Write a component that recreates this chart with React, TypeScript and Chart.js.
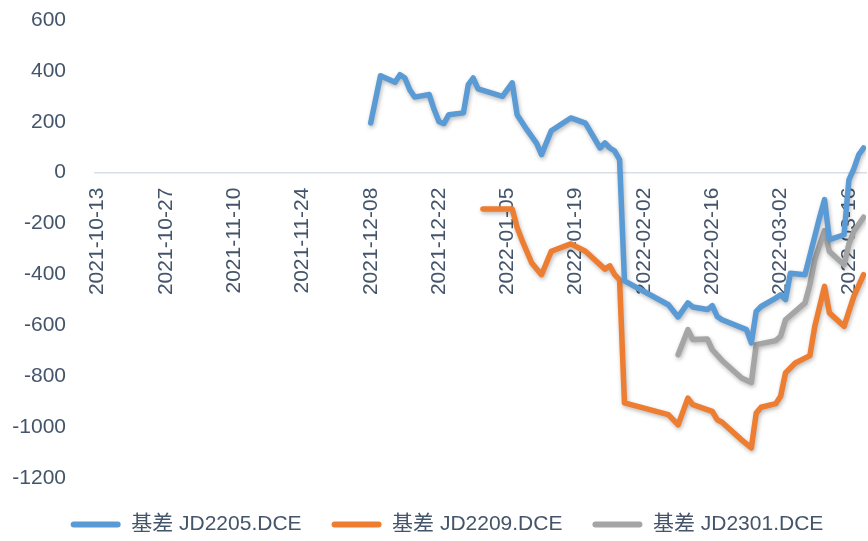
import React, { useEffect, useRef } from 'react';
import { Chart, registerables } from 'chart.js';

Chart.register(...registerables);

const FONT = "'Liberation Sans', 'Noto Sans CJK SC', sans-serif";
const TEXT_COLOR = '#44546A';

const seriesNames = ['基差 JD2205.DCE', '基差 JD2209.DCE', '基差 JD2301.DCE'];
const seriesColors = ['#5B9BD5', '#ED7D31', '#A5A5A5'];

const tickLabels = [
  '2021-10-13', '2021-10-27', '2021-11-10', '2021-11-24', '2021-12-08', '2021-12-22',
  '2022-01-05', '2022-01-19', '2022-02-02', '2022-02-16', '2022-03-02', '2022-03-16',
];
const axisStart = '2021-10-13';
const axisEnd = '2022-03-19';
const yMin = -1200;
const yMax = 600;
const yStep = 200;

const jd2205Dates = [
  '2021-12-08', '2021-12-10', '2021-12-13', '2021-12-14', '2021-12-15', '2021-12-16', '2021-12-17',
  '2021-12-20', '2021-12-21', '2021-12-22', '2021-12-23', '2021-12-24', '2021-12-27', '2021-12-28',
  '2021-12-29', '2021-12-30', '2022-01-04', '2022-01-06', '2022-01-07', '2022-01-09', '2022-01-11',
  '2022-01-12', '2022-01-14', '2022-01-18', '2022-01-21', '2022-01-24', '2022-01-25', '2022-01-26',
  '2022-01-27', '2022-01-28', '2022-01-29', '2022-02-07', '2022-02-09', '2022-02-11', '2022-02-12',
  '2022-02-15', '2022-02-16', '2022-02-17', '2022-02-18', '2022-02-23', '2022-02-24', '2022-02-25',
  '2022-02-26', '2022-03-01', '2022-03-02', '2022-03-03', '2022-03-04', '2022-03-07', '2022-03-10',
  '2022-03-11', '2022-03-12', '2022-03-15', '2022-03-16', '2022-03-17', '2022-03-18', '2022-03-19',
];
const jd2205Values = [
  195, 381, 355, 385, 372, 326, 297,
  307, 248, 200, 193, 228, 235, 346,
  372, 329, 300, 353, 228, 169, 115,
  71, 165, 215, 195, 97, 117, 97,
  85, 51, -425, -519, -567, -512, -528,
  -538, -523, -565, -578, -617, -669, -545,
  -526, -493, -480, -499, -395, -401, -175,
  -106, -263, -244, -28, 15, 70, 97,
];

const jd2209Dates = [
  '2021-12-31', '2022-01-06', '2022-01-07', '2022-01-08', '2022-01-10', '2022-01-12', '2022-01-14',
  '2022-01-18', '2022-01-21', '2022-01-25', '2022-01-26', '2022-01-27', '2022-01-28', '2022-01-29',
  '2022-02-07', '2022-02-09', '2022-02-11', '2022-02-12', '2022-02-16', '2022-02-17', '2022-02-18',
  '2022-02-22', '2022-02-24', '2022-02-25', '2022-02-26', '2022-03-01', '2022-03-02', '2022-03-03',
  '2022-03-05', '2022-03-08', '2022-03-09', '2022-03-11', '2022-03-12', '2022-03-15', '2022-03-17',
  '2022-03-19',
];
const jd2209Values = [
  -143, -143, -215, -265, -355, -401, -309,
  -280, -309, -379, -366, -401, -421, -905,
  -951, -991, -886, -912, -938, -971, -981,
  -1050, -1082, -945, -922, -908, -879, -787,
  -748, -719, -604, -447, -551, -604, -486,
  -401,
];

const jd2301Dates = [
  '2022-02-09', '2022-02-11', '2022-02-12', '2022-02-15', '2022-02-16', '2022-02-18', '2022-02-22',
  '2022-02-24', '2022-02-25', '2022-03-01', '2022-03-02', '2022-03-03', '2022-03-07', '2022-03-08',
  '2022-03-09', '2022-03-11', '2022-03-12', '2022-03-15', '2022-03-16', '2022-03-17', '2022-03-19',
];
const jd2301Values = [
  -715, -617, -656, -654, -696, -738, -807,
  -825, -676, -660, -643, -578, -512, -440,
  -342, -228, -310, -362, -280, -231, -175,
];

const seriesDates = [jd2205Dates, jd2209Dates, jd2301Dates];
const seriesValues = [jd2205Values, jd2209Values, jd2301Values];

const dayOffset = (s: string) => {
  const [y, m, d] = s.split('-').map(Number);
  const [y0, m0, d0] = axisStart.split('-').map(Number);
  return Math.round((Date.UTC(y, m - 1, d) - Date.UTC(y0, m0 - 1, d0)) / 86400000);
};

const shadowPlugin = {
  id: 'lineShadow',
  beforeDatasetDraw(chart: any) {
    const ctx = chart.ctx;
    ctx.save();
    ctx.shadowColor = 'rgba(0,0,0,0.28)';
    ctx.shadowBlur = 4;
    ctx.shadowOffsetX = 1;
    ctx.shadowOffsetY = 2;
  },
  afterDatasetDraw(chart: any) {
    chart.ctx.restore();
  },
};

const legendFitPlugin = {
  id: 'legendFit',
  beforeLayout(chart: any) {
    const lg = chart.legend;
    if (lg && !lg.__patched) {
      const orig = lg.fit;
      lg.fit = function () {
        orig.call(this);
        this.height = 63;
      };
      lg.__patched = true;
    }
  },
  afterLayout(chart: any) {
    const lg = chart.legend;
    if (lg) {
      lg.top += 6;
      lg.bottom += 6;
      lg.left += 14;
      lg.right += 14;
    }
  },
};

export default function App() {
  const ref = useRef<HTMLCanvasElement | null>(null);

  useEffect(() => {
    if (!ref.current) return;
    const datasets = seriesNames.map((name, i) => ({
      label: name,
      data: seriesDates[i].map((d, j) => ({ x: dayOffset(d), y: seriesValues[i][j] })),
      borderColor: seriesColors[i],
      backgroundColor: seriesColors[i],
      borderWidth: 5.5,
      borderCapStyle: 'round' as const,
      borderJoinStyle: 'round' as const,
      pointRadius: 0,
      pointHoverRadius: 0,
      tension: 0,
      fill: false,
    }));
    const tickOffsets = tickLabels.map(dayOffset);

    const chart = new Chart(ref.current, {
      type: 'line',
      data: { datasets },
      options: {
        animation: false,
        responsive: false,
        devicePixelRatio: 1,
        layout: { padding: { left: 0, right: 2, top: 20, bottom: 0 } },
        scales: {
          x: {
            type: 'linear',
            position: { y: 0 } as any,
            min: -0.5,
            max: dayOffset(axisEnd) + 0.5,
            afterBuildTicks: (scale: any) => {
              scale.ticks = tickOffsets.map((v) => ({ value: v }));
            },
            afterFit: (scale: any) => {
              scale.paddingLeft = 0;
              scale.paddingRight = 0;
            },
            grid: { display: true, color: 'rgba(0,0,0,0)', drawTicks: false },
            border: { display: true, color: '#D9DEE6', width: 1.5 },
            ticks: {
              autoSkip: false,
              minRotation: 90,
              maxRotation: 90,
              padding: 15,
              color: TEXT_COLOR,
              font: { family: FONT, size: 21 },
              callback: (_v: any, i: number) => tickLabels[i],
            },
          },
          y: {
            type: 'linear',
            min: yMin,
            max: yMax,
            afterFit: (scale: any) => {
              scale.width = 95;
              scale.paddingTop = 0;
              scale.paddingBottom = 0;
            },
            grid: { display: false, drawTicks: false },
            border: { display: false },
            ticks: {
              stepSize: yStep,
              padding: 29,
              color: TEXT_COLOR,
              font: { family: FONT, size: 21 },
              callback: (v: any) => String(v),
            },
          },
        },
        plugins: {
          tooltip: { enabled: false },
          legend: {
            position: 'bottom',
            labels: {
              boxWidth: 50,
              boxHeight: 6,
              padding: 30,
              color: TEXT_COLOR,
              font: { family: FONT, size: 21 },
              generateLabels: (c: any) =>
                (Chart.defaults.plugins.legend.labels.generateLabels as any)(c).map((l: any) => ({
                  ...l,
                  lineWidth: 0,
                  borderRadius: 3,
                })),
            },
          },
        },
      },
      plugins: [shadowPlugin, legendFitPlugin],
    });
    return () => chart.destroy();
  }, []);

  return (
    <div style={{ position: 'absolute', left: 0, top: 0, width: 868, height: 541, background: '#fff' }}>
      <canvas ref={ref} width={868} height={541} />
    </div>
  );
}
